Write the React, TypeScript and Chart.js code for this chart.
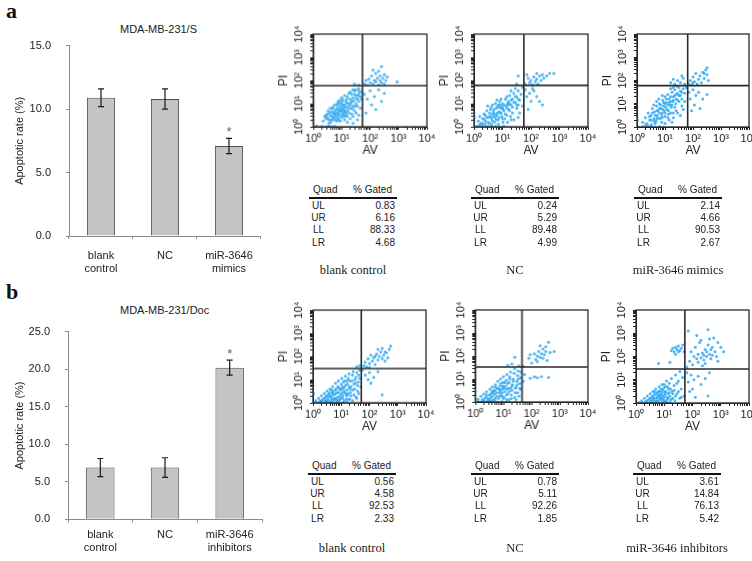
import React, { useEffect, useRef } from 'react';
import { Chart, registerables } from 'chart.js';

Chart.register(...registerables);

const SANS = '"Liberation Sans", Arial, sans-serif';
const SERIF = '"Liberation Serif", "Times New Roman", serif';
const TEXT = '#222';
const BLUE = 'rgba(50,170,240,0.85)';

// ---------- bar chart data ----------
const barCategoriesA = [['blank', 'control'], 'NC', ['miR-3646', 'mimics']];
const barValuesA = [10.9, 10.8, 7.1];
const barErrorsA = [0.7, 0.8, 0.6];
const barSigA = [false, false, true];
const barTicksA = [0, 5, 10, 15];

const barCategoriesB = [['blank', 'control'], 'NC', ['miR-3646', 'inhibitors']];
const barValuesB = [6.9, 6.9, 20.2];
const barErrorsB = [1.2, 1.3, 1.0];
const barSigB = [false, false, true];
const barTicksB = [0, 5, 10, 15, 20, 25];

// ---------- flow cytometry data (log10 units: [AV, PI, AV, PI, ...]) ----------
const quadA1 = [1.73, 1.77];
const pointsA1 = [
  0.0,0.0, 0.1,0.03, 0.15,0.0, 0.3,0.02, 0.45,0.0, 0.55,0.03, 0.65,0.0, 0.75,0.02,
  0.35,0.25, 0.4,0.45, 0.45,0.35, 0.5,0.55, 0.55,0.3, 0.6,0.5, 0.62,0.2, 0.65,0.65, 0.7,0.4, 0.72,0.55,
  0.75,0.3, 0.78,0.7, 0.8,0.5, 0.85,0.35, 0.88,0.6, 0.9,0.45, 0.95,0.25, 1.0,0.4, 1.05,0.55, 1.1,0.3,
  1.15,0.5, 1.2,0.2, 1.3,0.35, 1.4,0.15, 0.55,0.15, 0.5,0.4, 0.68,0.3, 0.82,0.25,
  0.6,0.8, 0.7,0.85, 0.75,0.95, 0.8,0.75, 0.85,0.9, 0.9,0.7, 0.92,1.0, 0.95,0.85, 1.0,0.65, 1.0,1.05,
  1.05,0.8, 1.1,0.95, 1.12,0.7, 1.15,1.1, 1.2,0.85, 1.25,0.6, 1.25,1.0, 1.3,0.8, 1.35,1.1, 1.4,0.9,
  1.45,0.7, 1.5,1.0, 0.98,0.75, 1.08,0.6, 0.88,1.1, 1.18,1.2,
  1.0,1.25, 1.1,1.35, 1.2,1.3, 1.25,1.45, 1.3,1.2, 1.35,1.4, 1.4,1.25, 1.45,1.55, 1.5,1.35, 1.55,1.2,
  1.6,1.45, 1.6,1.65, 1.65,1.3, 1.5,1.6, 1.4,1.6, 1.7,1.5, 1.55,0.9, 1.6,1.1, 1.65,0.8, 1.7,1.2,
  1.4,0.45, 1.5,0.6, 1.6,0.5, 1.55,0.3,
  0.65,0.45, 0.72,0.62, 0.78,0.42, 0.83,0.58, 0.87,0.78, 0.92,0.52, 0.96,0.68, 1.02,0.5, 1.05,0.92, 1.08,0.72,
  1.12,0.85, 1.15,0.62, 1.18,1.02, 1.22,0.72, 1.28,0.92, 1.32,1.02, 1.38,0.78, 1.42,1.12, 1.48,0.88, 1.52,1.22,
  0.58,0.62, 0.68,0.78, 0.85,1.0, 0.95,1.15, 1.05,1.15, 1.2,0.45, 1.35,0.55, 0.9,0.3, 0.6,0.3, 0.45,0.5,
  0.52,0.7, 0.75,0.55, 1.0,0.95, 1.1,0.45, 1.45,1.4, 1.3,1.5, 1.58,1.35, 1.62,1.55,
  1.45,1.85, 1.6,1.8,
  1.8,1.85, 1.85,2.0, 1.9,1.8, 1.95,2.05, 2.0,1.9, 2.05,2.2, 2.1,1.85, 2.15,2.0, 2.2,2.3, 2.2,1.95,
  2.25,2.1, 2.3,1.8, 2.3,2.4, 2.35,2.0, 2.35,2.2, 2.4,1.9, 2.4,2.6, 2.45,2.1, 2.5,2.25, 2.5,1.85,
  2.55,2.0, 2.6,2.15, 2.1,2.45, 2.95,1.95,
  1.8,1.4, 1.9,1.2, 2.0,1.55, 2.05,0.95, 2.15,1.3, 2.2,0.75, 2.3,1.6, 2.4,1.1, 2.5,1.45, 1.85,0.6,
];

const quadA2 = [1.75, 1.79];
const pointsA2 = [
  0.0,0.0, 0.1,0.02, 0.2,0.0, 0.3,0.03, 0.4,0.0, 0.5,0.02, 0.6,0.0, 0.75,0.02, 0.9,0.0, 1.05,0.02,
  0.0,0.2, 0.02,0.4, 0.0,0.6,
  0.15,0.25, 0.2,0.45, 0.25,0.15, 0.3,0.35, 0.35,0.55, 0.4,0.25, 0.45,0.7, 0.5,0.4, 0.55,0.15, 0.55,0.6,
  0.6,0.85, 0.62,0.35, 0.65,0.55, 0.7,0.75, 0.72,0.2, 0.75,1.0, 0.8,0.5, 0.82,0.85, 0.85,0.3, 0.88,0.65,
  0.9,1.1, 0.95,0.8, 0.98,0.45, 1.0,1.0, 1.02,0.2, 1.05,0.7, 1.1,1.2, 1.12,0.9, 1.15,0.5, 1.2,1.1,
  1.22,0.75, 1.25,1.35, 1.3,0.95, 1.35,0.6, 1.35,1.2, 1.4,1.45, 1.45,1.05, 1.5,1.3, 1.5,0.8, 1.55,1.55,
  1.6,1.15, 1.6,0.6, 1.65,1.4, 1.7,0.9, 1.7,1.7, 1.45,1.65, 1.3,1.55, 1.15,1.3, 0.95,1.2, 0.8,1.15,
  0.65,0.95, 0.4,0.5, 0.48,0.9, 0.7,0.45, 0.92,0.6, 1.08,0.35, 1.28,0.45, 1.4,0.3, 1.18,0.2, 0.58,0.75,
  0.78,0.3, 1.0,0.85, 1.25,1.0, 0.85,0.95, 1.55,0.95,
  0.3,0.15, 0.45,0.4, 0.5,0.2, 0.6,0.45, 0.65,0.25, 0.68,0.65, 0.75,0.4, 0.78,0.8, 0.82,0.6, 0.88,0.4,
  0.9,0.85, 0.95,0.6, 1.0,0.35, 1.02,0.75, 1.05,0.95, 1.1,0.55, 1.15,0.8, 1.2,0.95, 1.25,0.7, 1.3,1.15,
  1.35,0.85, 1.4,1.05, 1.45,1.3, 1.5,0.95, 1.55,1.2, 0.35,0.35, 0.55,0.45, 0.72,0.55, 0.92,0.95, 1.18,1.0,
  0.2,0.1, 0.4,0.12, 0.62,0.1, 0.85,0.12, 1.3,0.3, 1.55,0.4,
  1.55,2.2, 1.5,1.85,
  1.8,1.85, 1.9,2.1, 1.95,1.9, 2.0,2.0, 2.05,1.82, 2.1,2.15, 2.15,1.95, 2.2,2.05, 2.25,1.85, 2.3,2.2,
  2.35,2.0, 2.4,2.25, 2.45,2.1, 2.55,2.2, 2.65,2.3, 2.8,2.3, 1.85,2.25, 2.2,2.3,
  1.8,1.6, 1.85,1.3, 1.95,1.45, 2.0,1.1, 2.1,1.55, 2.2,1.3, 2.3,1.1, 2.4,0.95, 1.9,0.75, 2.05,1.65,
];

const quadA3 = [1.81, 1.78];
const pointsA3 = [
  0.05,0.0, 0.2,0.02, 0.35,0.0, 0.5,0.03, 0.65,0.0, 0.8,0.02, 0.95,0.0, 0.02,0.3,
  0.2,0.2, 0.3,0.4, 0.35,0.15, 0.4,0.6, 0.45,0.3, 0.5,0.5, 0.55,0.8, 0.6,0.35, 0.62,0.65, 0.65,0.15,
  0.7,0.9, 0.72,0.5, 0.75,0.7, 0.8,1.0, 0.82,0.35, 0.85,0.8, 0.9,0.6, 0.92,1.15, 0.95,0.9, 1.0,0.45,
  1.0,1.3, 1.05,1.05, 1.08,0.75, 1.1,1.4, 1.15,1.2, 1.18,0.95, 1.2,0.6, 1.25,1.5, 1.28,1.1, 1.3,1.3,
  1.35,0.85, 1.35,1.6, 1.4,1.4, 1.45,1.15, 1.5,1.7, 1.5,1.35, 1.55,1.55, 1.6,1.2, 1.6,0.9, 1.65,1.65,
  1.7,1.45, 1.75,1.7, 1.7,1.1, 1.45,0.6, 1.3,0.4, 1.15,0.3, 0.88,0.2, 0.6,0.95, 0.78,1.2, 0.98,0.7,
  1.12,0.55, 1.22,0.85, 1.38,1.0, 0.68,0.25, 0.52,0.1, 0.4,0.05, 1.0,0.15, 1.25,0.2, 1.55,0.5, 1.65,0.75,
  1.42,1.75, 1.3,1.7, 1.2,1.65, 0.9,1.35, 0.7,1.1,
  0.45,0.45, 0.55,0.6, 0.6,0.25, 0.65,0.5, 0.7,0.7, 0.75,0.4, 0.8,0.6, 0.85,0.95, 0.88,0.5, 0.92,0.75,
  0.95,1.05, 1.0,0.6, 1.02,0.85, 1.05,1.2, 1.1,0.95, 1.12,0.7, 1.15,1.05, 1.2,1.3, 1.25,0.95, 1.3,1.15,
  1.35,1.35, 1.4,1.2, 1.45,1.45, 1.5,1.1, 1.55,1.35, 1.6,1.5, 0.7,0.35, 0.9,0.4, 1.1,0.4, 1.3,0.6,
  0.5,0.3, 0.8,0.8, 1.0,1.0, 1.2,1.1, 1.4,0.7, 0.3,0.1,
  1.2,1.9, 1.35,1.85, 1.45,2.0, 1.55,1.9, 1.65,2.1, 1.7,1.85, 1.6,2.2, 1.3,2.05,
  1.85,1.85, 1.9,2.0, 1.95,1.82, 2.0,2.15, 2.05,1.95, 2.1,2.3, 2.15,1.85, 2.2,2.05, 2.25,2.2, 2.3,1.9,
  2.35,2.35, 2.4,2.1, 2.45,2.45, 2.5,2.25, 2.55,2.0, 2.5,2.55, 2.4,2.3, 2.0,1.9,
  1.85,1.5, 1.9,1.2, 2.0,1.6, 2.05,0.95, 2.1,1.35, 2.2,1.5, 2.25,0.8, 2.35,1.2, 2.5,1.4, 1.95,0.7,
];

const quadB1 = [1.71, 1.48];
const pointsB1 = [
  0.0,0.0, 0.1,0.02, 0.2,0.0, 0.3,0.02, 0.4,0.0, 0.5,0.03, 0.6,0.0, 0.7,0.02, 0.8,0.0, 0.9,0.02,
  1.05,0.0, 1.2,0.02, 0.0,0.75, 0.02,0.4,
  0.1,0.1, 0.2,0.2, 0.25,0.08, 0.3,0.3, 0.35,0.15, 0.4,0.4, 0.42,0.1, 0.45,0.25, 0.5,0.5, 0.52,0.15,
  0.55,0.35, 0.6,0.6, 0.6,0.08, 0.65,0.25, 0.68,0.45, 0.7,0.7, 0.72,0.12, 0.75,0.35, 0.78,0.55, 0.8,0.85,
  0.82,0.2, 0.85,0.45, 0.88,0.7, 0.9,0.95, 0.92,0.1, 0.95,0.3, 0.98,0.55, 1.0,0.8, 1.02,1.05, 1.05,0.2,
  1.08,0.45, 1.1,0.65, 1.12,0.95, 1.15,1.15, 1.18,0.3, 1.2,0.55, 1.22,0.8, 1.25,1.05, 1.28,1.25, 1.3,0.15,
  1.32,0.45, 1.35,0.7, 1.38,0.95, 1.4,1.2, 1.42,1.35, 1.45,0.35, 1.48,0.6, 1.5,0.85, 1.52,1.1, 1.55,1.3,
  1.58,0.5, 1.6,0.9, 1.62,1.2, 1.65,1.4, 1.68,0.7, 1.55,0.2, 1.4,0.1, 1.65,1.05, 0.58,0.42, 0.88,0.25,
  1.15,0.4, 0.48,0.32, 0.78,0.15, 1.05,0.7, 1.3,0.6, 0.95,0.6, 1.25,0.35, 0.7,0.5, 1.1,0.1,
  0.3,0.1, 0.4,0.2, 0.5,0.1, 0.55,0.25, 0.62,0.3, 0.65,0.15, 0.7,0.38, 0.75,0.2, 0.8,0.4, 0.82,0.6,
  0.85,0.1, 0.9,0.45, 0.92,0.65, 0.95,0.15, 1.0,0.4, 1.02,0.6, 1.05,0.3, 1.08,0.9, 1.1,0.5, 1.15,0.75,
  1.18,0.15, 1.2,0.95, 1.22,0.4, 1.28,0.7, 1.3,0.95, 1.35,0.3, 1.4,0.55, 1.45,0.8, 1.48,1.0, 1.52,0.25,
  1.58,0.75, 0.45,0.05, 0.65,0.55, 0.98,0.2, 1.25,0.15, 1.62,0.4,
  1.55,1.55, 1.65,1.6,
  1.8,1.6, 1.85,1.75, 1.9,1.55, 1.95,1.9, 2.0,1.7, 2.05,2.05, 2.1,1.8, 2.15,1.95, 2.2,1.65, 2.25,2.1,
  2.3,1.85, 2.35,2.0, 2.4,2.2, 2.45,1.9, 2.5,2.05, 2.55,1.8, 2.6,2.15, 2.65,1.95, 2.7,2.3, 2.75,2.45,
  2.3,2.3, 2.45,2.35, 2.0,1.52, 2.2,2.0, 2.55,2.2,
  1.75,1.4, 1.85,1.2, 1.95,1.0, 2.0,1.3, 2.05,0.85, 2.15,1.1, 2.45,0.35, 2.3,1.35,
];

const quadB2 = [1.66, 1.52];
const pointsB2 = [
  0.0,0.0, 0.1,0.02, 0.2,0.0, 0.3,0.02, 0.4,0.0, 0.5,0.03, 0.6,0.0, 0.7,0.02, 0.8,0.0, 0.95,0.02,
  1.1,0.0, 0.0,0.5,
  0.1,0.12, 0.2,0.25, 0.25,0.1, 0.3,0.35, 0.35,0.18, 0.4,0.45, 0.45,0.1, 0.5,0.3, 0.52,0.55, 0.55,0.2,
  0.6,0.65, 0.62,0.4, 0.65,0.1, 0.7,0.5, 0.72,0.75, 0.75,0.25, 0.78,0.6, 0.8,0.9, 0.82,0.15, 0.85,0.4,
  0.88,0.7, 0.9,1.0, 0.92,0.3, 0.95,0.55, 0.98,0.85, 1.0,1.1, 1.02,0.2, 1.05,0.45, 1.08,0.7, 1.1,0.95,
  1.12,1.2, 1.15,0.35, 1.18,0.6, 1.2,0.85, 1.22,1.1, 1.25,1.3, 1.28,0.15, 1.3,0.5, 1.32,0.75, 1.35,1.0,
  1.38,1.25, 1.4,1.45, 1.42,0.4, 1.45,0.65, 1.48,0.9, 1.5,1.15, 1.52,1.35, 1.55,0.25, 1.58,0.8, 1.6,1.05,
  1.62,1.3, 1.45,0.1, 0.58,0.05, 0.68,0.35, 0.85,0.55, 1.0,0.65, 1.25,0.6, 1.6,0.55, 0.4,0.3, 1.12,0.1,
  0.95,0.25,
  0.3,0.1, 0.4,0.2, 0.5,0.12, 0.55,0.35, 0.6,0.25, 0.65,0.5, 0.7,0.15, 0.75,0.4, 0.8,0.6, 0.85,0.25,
  0.88,0.5, 0.9,0.8, 0.95,0.4, 1.0,0.15, 1.02,0.6, 1.05,0.85, 1.1,0.3, 1.12,0.55, 1.15,0.8, 1.2,0.45,
  1.22,1.0, 1.28,0.3, 1.3,0.7, 1.35,0.9, 1.4,0.2, 1.42,0.6, 1.48,0.75, 1.5,0.4, 1.52,1.0, 1.58,0.6,
  0.45,0.05, 0.7,0.65, 0.98,0.7, 1.2,0.1, 0.6,0.45,
  1.15,1.6, 1.4,1.95, 1.3,1.65, 1.55,1.58,
  1.7,1.55, 1.9,1.9, 2.0,1.7, 2.1,2.1, 2.15,1.85, 2.2,2.0, 2.25,2.2, 2.3,1.95, 2.35,2.1, 2.4,2.3,
  2.4,1.9, 2.45,2.05, 2.5,2.2, 2.55,1.8, 2.6,2.6, 2.65,2.15, 2.8,2.2, 2.3,2.45, 1.95,2.05, 2.2,1.75,
  2.5,2.4,
  1.75,1.2, 1.95,1.03, 2.1,1.1, 2.2,1.05, 2.35,1.1, 2.6,1.07, 1.7,0.9,
];

const quadB3 = [1.73, 1.46];
const pointsB3 = [
  0.0,0.0, 0.1,0.02, 0.2,0.0, 0.3,0.02, 0.4,0.0, 0.5,0.03, 0.6,0.0, 0.7,0.02, 0.8,0.0, 0.9,0.02,
  1.0,0.0, 1.1,0.02,
  0.2,0.1, 0.3,0.2, 0.35,0.08, 0.4,0.3, 0.45,0.15, 0.5,0.4, 0.52,0.05, 0.55,0.25, 0.6,0.5, 0.62,0.12,
  0.65,0.35, 0.7,0.6, 0.72,0.2, 0.75,0.45, 0.78,0.08, 0.8,0.3, 0.82,0.7, 0.85,0.5, 0.88,0.15, 0.9,0.35,
  0.92,0.8, 0.95,0.55, 0.98,0.1, 1.0,0.25, 1.02,0.45, 1.05,0.7, 1.08,0.95, 1.1,0.15, 1.12,0.4, 1.15,0.6,
  1.18,0.85, 1.2,0.3, 1.25,1.05, 1.28,0.5, 1.3,0.2, 1.35,0.75, 1.4,1.2, 1.45,0.4, 1.5,0.95, 1.55,1.35,
  1.6,0.6, 1.65,1.1, 1.7,0.3, 1.38,0.1, 1.55,0.2, 0.58,0.2, 0.68,0.05, 0.86,0.25, 1.05,0.05, 0.75,0.25,
  0.95,0.18,
  0.4,0.1, 0.5,0.2, 0.55,0.1, 0.6,0.3, 0.65,0.2, 0.7,0.4, 0.72,0.1, 0.78,0.35, 0.8,0.5, 0.82,0.15,
  0.85,0.35, 0.88,0.6, 0.9,0.2, 0.92,0.45, 0.95,0.3, 0.98,0.65, 1.0,0.1, 1.02,0.35, 1.05,0.5, 1.1,0.25,
  1.12,0.7, 1.15,0.2, 1.18,0.45, 1.22,0.6, 1.25,0.15, 1.3,0.4, 1.35,0.55, 1.4,0.3, 1.45,0.85, 1.5,0.5,
  0.65,0.5, 0.75,0.05, 1.2,0.05, 1.6,0.25, 1.0,0.8,
  0.8,1.7, 1.2,1.75, 1.25,2.25, 1.3,2.35, 1.35,2.2, 1.4,2.4, 1.45,2.3, 1.5,2.45, 1.55,2.25, 1.6,2.35,
  1.65,2.5, 1.7,2.2, 1.5,2.2, 1.4,2.1,
  1.8,1.55, 1.85,3.1, 1.9,1.8, 1.95,2.2, 2.0,1.65, 2.05,2.0, 2.1,2.4, 2.15,1.9, 2.2,2.1, 2.25,2.6,
  2.3,1.95, 2.35,2.15, 2.4,1.85, 2.45,2.3, 2.5,2.0, 2.55,3.15, 2.55,2.5, 2.6,2.1, 2.65,1.9, 2.7,2.4,
  2.75,2.8, 2.8,2.2, 2.85,2.0, 2.9,2.6, 3.0,2.4, 3.1,2.2, 2.45,1.7, 2.3,2.7, 2.2,1.75, 2.6,2.75,
  2.4,2.05, 2.35,1.6, 2.15,2.9, 2.7,2.05, 2.5,2.2, 2.65,2.3, 2.9,1.8,
  1.8,1.3, 1.85,0.9, 1.95,1.2, 2.0,0.6, 2.05,1.0, 2.1,0.25, 2.2,1.15, 2.3,0.8, 2.45,1.05, 2.55,0.3,
  1.9,0.5, 2.6,1.3,
];

// ---------- quadrant statistics tables ----------
const quadLabels = ['UL', 'UR', 'LL', 'LR'];
const gatedA1 = ['0.83', '6.16', '88.33', '4.68'];
const gatedA2 = ['0.24', '5.29', '89.48', '4.99'];
const gatedA3 = ['2.14', '4.66', '90.53', '2.67'];
const gatedB1 = ['0.56', '4.58', '92.53', '2.33'];
const gatedB2 = ['0.78', '5.11', '92.26', '1.85'];
const gatedB3 = ['3.61', '14.84', '76.13', '5.42'];

const SUP = ['\u2070', '\u00B9', '\u00B2', '\u00B3', '\u2074'];

// ---------- plugins ----------
const errorBarPlugin = {
  id: 'errorBars',
  afterDatasetsDraw(chart: any, _args: any, opts: any) {
    const { ctx } = chart;
    const meta = chart.getDatasetMeta(0);
    const ys = chart.scales.y;
    const vals = chart.data.datasets[0].data as number[];
    (opts.errors as number[]).forEach((e, i) => {
      const x = meta.data[i].x;
      const top = ys.getPixelForValue(vals[i] + e);
      const bot = ys.getPixelForValue(vals[i] - e);
      ctx.save();
      ctx.strokeStyle = '#1a1a1a';
      ctx.lineWidth = 1.2;
      ctx.beginPath();
      ctx.moveTo(x, top); ctx.lineTo(x, bot);
      ctx.moveTo(x - 3, top); ctx.lineTo(x + 3, top);
      ctx.moveTo(x - 3, bot); ctx.lineTo(x + 3, bot);
      ctx.stroke();
      if (opts.sig[i]) {
        ctx.fillStyle = '#666';
        ctx.font = `13px ${SANS}`;
        ctx.textAlign = 'center';
        ctx.textBaseline = 'alphabetic';
        ctx.fillText('*', x, top - 2);
      }
      ctx.restore();
    });
  },
};

const quadPlugin = {
  id: 'quadBox',
  afterDatasetsDraw(chart: any, _args: any, opts: any) {
    const { ctx, chartArea: a } = chart;
    const xs = chart.scales.x;
    const ys = chart.scales.y;
    const qx = xs.getPixelForValue(10 ** opts.q[0]);
    const qy = ys.getPixelForValue(10 ** opts.q[1]);
    ctx.save();
    ctx.strokeStyle = '#2a2a2a';
    ctx.lineWidth = 1.3;
    ctx.strokeRect(a.left, a.top, a.right - a.left, a.bottom - a.top);
    ctx.lineWidth = 1.6;
    ctx.beginPath();
    ctx.moveTo(qx, a.top); ctx.lineTo(qx, a.bottom);
    ctx.moveTo(a.left, qy); ctx.lineTo(a.right, qy);
    ctx.stroke();
    ctx.restore();
  },
};

const logTicks = (scale: any) => {
  const t: any[] = [];
  for (let d = 0; d < 4; d++) for (let k = 1; k < 10; k++) t.push({ value: k * 10 ** d });
  t.push({ value: 10000 });
  scale.ticks = t;
};
const logLabel = (v: any) => {
  const l = Math.log10(Number(v));
  const r = Math.round(l);
  return Math.abs(l - r) < 1e-6 ? '10' + SUP[r] : '';
};

// ---------- components ----------
function ChartBox({ left, top, width, height, make }: any) {
  const ref = useRef<HTMLCanvasElement>(null);
  useEffect(() => {
    const chart = new Chart(ref.current as HTMLCanvasElement, make());
    return () => chart.destroy();
  }, []);
  return (
    <div style={{ position: 'absolute', left, top, width, height }}>
      <canvas ref={ref} width={width} height={height} style={{ width, height, display: 'block' }} />
    </div>
  );
}

function BarPanel({ top, cats, values, errors, sig, ticks, areaTop, areaBottom, areaLeft, labelPad }: any) {
  const width = 263;
  const height = 281;
  const make = () => ({
    type: 'bar',
    data: {
      labels: cats,
      datasets: [{
        data: values,
        backgroundColor: '#c4c4c4',
        borderColor: '#505050',
        borderWidth: 1,
        barPercentage: 0.44,
        categoryPercentage: 1,
      }],
    },
    options: {
      responsive: false,
      animation: false,
      events: [],
      layout: { padding: { top: areaTop, right: 1, left: 0, bottom: 0 } },
      plugins: {
        legend: { display: false },
        tooltip: { enabled: false },
        errorBars: { errors, sig },
      },
      scales: {
        x: {
          afterFit: (s: any) => { s.height = height - areaBottom; },
          grid: { offset: true, drawOnChartArea: false, tickLength: 3, color: '#8a8a8a' },
          border: { color: '#8a8a8a' },
          ticks: { font: { size: 11, family: SANS }, color: TEXT, padding: labelPad, maxRotation: 0 },
        },
        y: {
          min: ticks[0],
          max: ticks[ticks.length - 1],
          afterFit: (s: any) => { s.width = areaLeft; },
          afterBuildTicks: (s: any) => { s.ticks = ticks.map((v: number) => ({ value: v })); },
          grid: { drawOnChartArea: false, tickLength: 3, color: '#8a8a8a' },
          border: { color: '#8a8a8a' },
          ticks: {
            font: { size: 11, family: SANS },
            color: TEXT,
            padding: 15,
            callback: (v: any) => Number(v).toFixed(1),
          },
          title: {
            display: true,
            text: 'Apoptotic rate (%)',
            font: { size: 11, family: SANS },
            color: TEXT,
            padding: { top: 13, bottom: 0 },
          },
        },
      },
    },
    plugins: [errorBarPlugin],
  });
  return <ChartBox left={0} top={top} width={width} height={height} make={make} />;
}

function FlowPanel({ box, points, quad }: any) {
  const padL = 46, padT = 14, padR = 12, padB = 34;
  const width = box.w + padL + padR;
  const height = box.h + padT + padB;
  const data: any[] = [];
  for (let i = 0; i < points.length; i += 2) data.push({ x: 10 ** points[i], y: 10 ** points[i + 1] });
  const axisCommon = {
    type: 'logarithmic',
    min: 1,
    max: 10000,
    afterBuildTicks: logTicks,
    grid: { drawOnChartArea: false, tickLength: 3, color: '#222', lineWidth: 1 },
    border: { display: true, color: '#222' },
  };
  const make = () => ({
    type: 'scatter',
    data: {
      datasets: [{
        data,
        pointRadius: 1.5,
        pointHoverRadius: 0,
        pointBorderWidth: 0,
        pointBackgroundColor: BLUE,
      }],
    },
    options: {
      responsive: false,
      animation: false,
      events: [],
      layout: { padding: { left: 0, top: padT, right: padR, bottom: 0 } },
      plugins: {
        legend: { display: false },
        tooltip: { enabled: false },
        quadBox: { q: quad },
      },
      scales: {
        x: {
          ...axisCommon,
          afterFit: (s: any) => { s.height = padB; },
          ticks: {
            autoSkip: false, maxRotation: 0, minRotation: 0, padding: 2,
            font: { size: 11, family: SANS }, color: TEXT, callback: logLabel,
          },
          title: {
            display: true, text: 'AV',
            font: { size: 12, family: SANS }, color: TEXT,
            padding: { top: 0, bottom: 3 },
          },
        },
        y: {
          ...axisCommon,
          afterFit: (s: any) => { s.width = padL; },
          ticks: {
            autoSkip: false, minRotation: 90, maxRotation: 90, crossAlign: 'center', padding: 3,
            font: { size: 11, family: SANS }, color: TEXT, callback: logLabel,
          },
          title: {
            display: true, text: 'PI',
            font: { size: 12, family: SANS }, color: TEXT,
            padding: { top: 9, bottom: 0 },
          },
        },
      },
    },
    plugins: [quadPlugin],
  });
  return <ChartBox left={box.x - padL} top={box.y - padT} width={width} height={height} make={make} />;
}

function GateTable({ left, top, values, caption, captionTop }: any) {
  const w = 88;
  const rowH = 12.4;
  const base: any = { position: 'absolute', fontFamily: SANS, fontSize: 10, color: TEXT, lineHeight: '12px', whiteSpace: 'nowrap' };
  return (
    <div style={{ position: 'absolute', left, top, width: w, height: 90 }}>
      <div style={{ ...base, left: 4, top: -6 }}>Quad</div>
      <div style={{ ...base, right: 5, top: -6 }}>% Gated</div>
      <div style={{ position: 'absolute', left: 0, top: 7, width: w, height: 1.5, background: '#111' }} />
      {quadLabels.map((q, i) => (
        <React.Fragment key={q}>
          <div style={{ ...base, left: 0, width: 19, textAlign: 'center', top: 15.5 + i * rowH - 6 }}>{q}</div>
          <div style={{ ...base, right: 2, top: 15.5 + i * rowH - 6 }}>{values[i]}</div>
        </React.Fragment>
      ))}
      <div style={{ position: 'absolute', left: -30, width: w + 60, textAlign: 'center', top: captionTop - 8, fontFamily: SERIF, fontSize: 12.5, color: TEXT, lineHeight: '16px', whiteSpace: 'nowrap' }}>{caption}</div>
    </div>
  );
}

export default function App() {
  const letter: any = { position: 'absolute', fontFamily: SERIF, fontWeight: 'bold', fontSize: 22, color: '#111', lineHeight: '22px' };
  const title: any = { position: 'absolute', fontFamily: SANS, fontSize: 11, color: TEXT, lineHeight: '12px', whiteSpace: 'nowrap' };
  return (
    <div style={{ position: 'absolute', left: 0, top: 0, width: 752, height: 561, overflow: 'hidden', background: '#fff' }}>
      <div style={{ ...letter, left: 6, top: 0 }}>a</div>
      <div style={{ ...letter, left: 6, top: 281 }}>b</div>
      <div style={{ ...title, left: 120, top: 23 }}>MDA-MB-231/S</div>
      <div style={{ ...title, left: 120, top: 304 }}>MDA-MB-231/Doc</div>

      <BarPanel top={0} cats={barCategoriesA} values={barValuesA} errors={barErrorsA} sig={barSigA}
        ticks={barTicksA} areaTop={45.7} areaBottom={236} areaLeft={69} labelPad={10} />
      <BarPanel top={280} cats={barCategoriesB} values={barValuesB} errors={barErrorsB} sig={barSigB}
        ticks={barTicksB} areaTop={51.7} areaBottom={239.3} areaLeft={68} labelPad={6} />

      <FlowPanel box={{ x: 313.3, y: 34, w: 113.4, h: 92.7 }} points={pointsA1} quad={quadA1} />
      <FlowPanel box={{ x: 474.3, y: 34, w: 114, h: 92.7 }} points={pointsA2} quad={quadA2} />
      <FlowPanel box={{ x: 636.7, y: 34, w: 112, h: 93.3 }} points={pointsA3} quad={quadA3} />
      <FlowPanel box={{ x: 312.7, y: 310, w: 113.3, h: 92.7 }} points={pointsB1} quad={quadB1} />
      <FlowPanel box={{ x: 475.3, y: 310, w: 112.4, h: 92 }} points={pointsB2} quad={quadB2} />
      <FlowPanel box={{ x: 636, y: 310, w: 113.3, h: 93.3 }} points={pointsB3} quad={quadB3} />

      <GateTable left={309} top={190} values={gatedA1} caption="blank control" captionTop={80} />
      <GateTable left={471} top={190} values={gatedA2} caption="NC" captionTop={80} />
      <GateTable left={634} top={190} values={gatedA3} caption="miR-3646 mimics" captionTop={80} />
      <GateTable left={308} top={466} values={gatedB1} caption="blank control" captionTop={82} />
      <GateTable left={471} top={466} values={gatedB2} caption="NC" captionTop={82} />
      <GateTable left={633} top={466} values={gatedB3} caption="miR-3646 inhibitors" captionTop={82} />
    </div>
  );
}
